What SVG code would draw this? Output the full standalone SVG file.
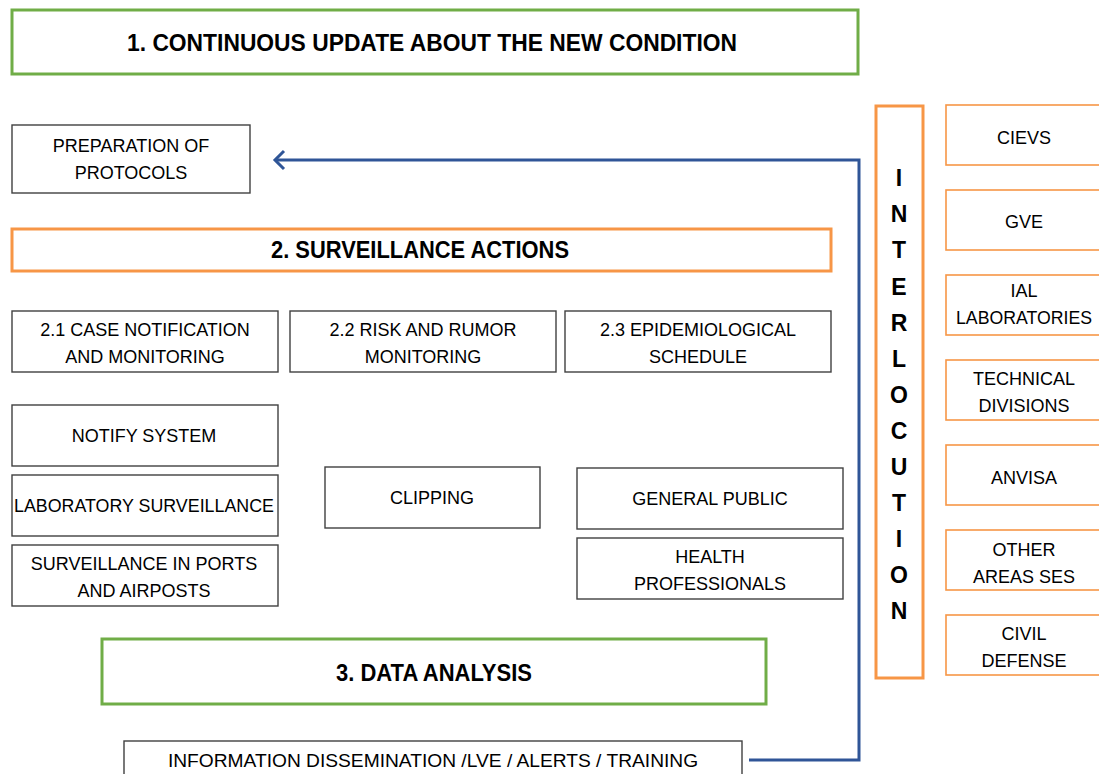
<svg xmlns="http://www.w3.org/2000/svg" width="1099" height="774" viewBox="0 0 1099 774">
<defs>
<style>
.bg{fill:#ffffff}
.gbox{fill:#ffffff;stroke:#70AD47;stroke-width:3}
.obox{fill:#ffffff;stroke:#F79646;stroke-width:3}
.orbox{fill:#ffffff;stroke:#F79646;stroke-width:1.6}
.kbox{fill:#ffffff;stroke:#404040;stroke-width:1.4}
.t{font-family:"Liberation Sans",Arial,sans-serif;font-size:18px;fill:#000;text-anchor:middle}
.tb{font-family:"Liberation Sans",Arial,sans-serif;font-size:23px;font-weight:bold;fill:#000;text-anchor:middle}
.tv{font-family:"Liberation Sans",Arial,sans-serif;font-size:23px;font-weight:bold;fill:#000;text-anchor:middle}
.conn{fill:none;stroke:#2F5597;stroke-width:3;stroke-linejoin:miter}
</style>
</defs>
<rect class="bg" x="0" y="0" width="1099" height="774"/>

<g id="connectors">
<path class="conn" d="M749,760 H859 V160 H275"/>
<path class="conn" d="M284,151 L275,160 L284,169"/>
</g>

<g id="n1">
<rect class="gbox" x="12" y="10" width="846" height="64"/>
<text class="tb" x="432" y="51" textLength="610" lengthAdjust="spacingAndGlyphs">1. CONTINUOUS UPDATE ABOUT THE NEW CONDITION</text>
</g>

<g id="prep">
<rect class="kbox" x="12" y="125" width="238" height="68"/>
<text class="t" x="131" y="151.5">PREPARATION OF</text>
<text class="t" x="131" y="178.5">PROTOCOLS</text>
</g>

<g id="n2">
<rect class="obox" x="12" y="229" width="819" height="42"/>
<text class="tb" x="420" y="258" textLength="298" lengthAdjust="spacingAndGlyphs">2. SURVEILLANCE ACTIONS</text>
</g>

<g id="n21">
<rect class="kbox" x="12" y="311" width="266" height="61"/>
<text class="t" x="145" y="335.5">2.1 CASE NOTIFICATION</text>
<text class="t" x="145" y="362.5">AND MONITORING</text>
</g>
<g id="n22">
<rect class="kbox" x="290" y="311" width="266" height="61"/>
<text class="t" x="423" y="335.5">2.2 RISK AND RUMOR</text>
<text class="t" x="423" y="362.5">MONITORING</text>
</g>
<g id="n23">
<rect class="kbox" x="565" y="311" width="266" height="61"/>
<text class="t" x="698" y="335.5">2.3 EPIDEMIOLOGICAL</text>
<text class="t" x="698" y="362.5">SCHEDULE</text>
</g>

<g id="notify">
<rect class="kbox" x="12" y="405" width="266" height="61"/>
<text class="t" x="144" y="441.5">NOTIFY SYSTEM</text>
</g>
<g id="lab">
<rect class="kbox" x="12" y="475" width="266" height="61"/>
<text class="t" x="144" y="511.5" textLength="260" lengthAdjust="spacingAndGlyphs">LABORATORY SURVEILLANCE</text>
</g>
<g id="ports">
<rect class="kbox" x="12" y="545" width="266" height="61"/>
<text class="t" x="144" y="569.5">SURVEILLANCE IN PORTS</text>
<text class="t" x="144" y="596.5">AND AIRPOSTS</text>
</g>

<g id="clipping">
<rect class="kbox" x="325" y="467" width="215" height="61"/>
<text class="t" x="432" y="503.5">CLIPPING</text>
</g>

<g id="public">
<rect class="kbox" x="577" y="468" width="266" height="61"/>
<text class="t" x="710" y="504.5">GENERAL PUBLIC</text>
</g>
<g id="health">
<rect class="kbox" x="577" y="538" width="266" height="61"/>
<text class="t" x="710" y="562.5">HEALTH</text>
<text class="t" x="710" y="589.5">PROFESSIONALS</text>
</g>

<g id="n3">
<rect class="gbox" x="102" y="639" width="664" height="65"/>
<text class="tb" x="434" y="681" textLength="196" lengthAdjust="spacingAndGlyphs">3. DATA ANALYSIS</text>
</g>

<g id="info">
<rect class="kbox" x="124" y="741" width="618" height="40"/>
<text class="t" x="433" y="767" style="font-size:19.2px">INFORMATION DISSEMINATION /LVE / ALERTS / TRAINING</text>
</g>

<g id="interlocution">
<rect class="obox" x="876" y="106" width="47" height="572"/>
<text class="tv" x="899" y="186">I</text>
<text class="tv" x="899" y="222">N</text>
<text class="tv" x="899" y="258">T</text>
<text class="tv" x="899" y="295">E</text>
<text class="tv" x="899" y="331">R</text>
<text class="tv" x="899" y="367">L</text>
<text class="tv" x="899" y="403">O</text>
<text class="tv" x="899" y="439">C</text>
<text class="tv" x="899" y="475">U</text>
<text class="tv" x="899" y="511">T</text>
<text class="tv" x="899" y="547">I</text>
<text class="tv" x="899" y="583">O</text>
<text class="tv" x="899" y="619">N</text>
</g>

<g id="cievs">
<rect class="orbox" x="946" y="105" width="170" height="60"/>
<text class="t" x="1024" y="143.5">CIEVS</text>
</g>
<g id="gve">
<rect class="orbox" x="946" y="190" width="170" height="60"/>
<text class="t" x="1024" y="227.5">GVE</text>
</g>
<g id="ial">
<rect class="orbox" x="946" y="275" width="170" height="60"/>
<text class="t" x="1024" y="296.5">IAL</text>
<text class="t" x="1024" y="323.5" textLength="136" lengthAdjust="spacingAndGlyphs">LABORATORIES</text>
</g>
<g id="technical">
<rect class="orbox" x="946" y="360" width="170" height="60"/>
<text class="t" x="1024" y="384.5">TECHNICAL</text>
<text class="t" x="1024" y="411.5">DIVISIONS</text>
</g>
<g id="anvisa">
<rect class="orbox" x="946" y="445" width="170" height="60"/>
<text class="t" x="1024" y="483.5">ANVISA</text>
</g>
<g id="other">
<rect class="orbox" x="946" y="530" width="170" height="60"/>
<text class="t" x="1024" y="555.5">OTHER</text>
<text class="t" x="1024" y="582.5">AREAS SES</text>
</g>
<g id="civil">
<rect class="orbox" x="946" y="615" width="170" height="60"/>
<text class="t" x="1024" y="639.5">CIVIL</text>
<text class="t" x="1024" y="666.5">DEFENSE</text>
</g>
</svg>
